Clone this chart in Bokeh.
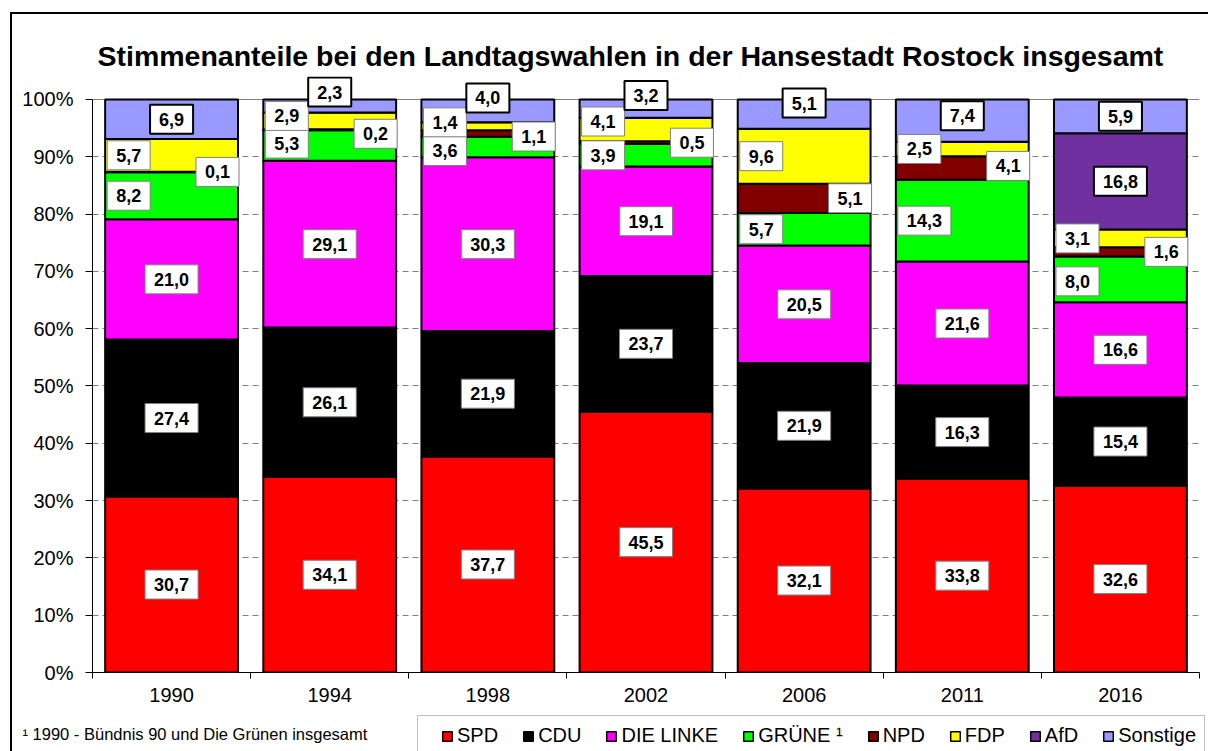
from bokeh.plotting import figure
from bokeh.layouts import column
from bokeh.models import (Range1d, FixedTicker, PrintfTickFormatter, Label, Legend, LegendItem,
                          ColumnDataSource, Grid)
from bokeh.embed import file_html
from bokeh.resources import INLINE

# ---- data ----
years = ["1990", "1994", "1998", "2002", "2006", "2011", "2016"]
parties = ["SPD", "CDU", "DIE LINKE", "GRÜNE ¹", "NPD", "FDP", "AfD", "Sonstige"]
spd = [30.7, 34.1, 37.7, 45.5, 32.1, 33.8, 32.6]
cdu = [27.4, 26.1, 21.9, 23.7, 21.9, 16.3, 15.4]
linke = [21.0, 29.1, 30.3, 19.1, 20.5, 21.6, 16.6]
gruene = [8.2, 5.3, 3.6, 3.9, 5.7, 14.3, 8.0]
npd = [0.1, 0.2, 1.1, 0.5, 5.1, 4.1, 1.6]
fdp = [5.7, 2.9, 1.4, 4.1, 9.6, 2.5, 3.1]
afd = [0.0, 0.0, 0.0, 0.0, 0.0, 0.0, 16.8]
sonstige = [6.9, 2.3, 4.0, 3.2, 5.1, 7.4, 5.9]
y_ticks = [0, 10, 20, 30, 40, 50, 60, 70, 80, 90, 100]
title_text = "Stimmenanteile bei den Landtagswahlen in der Hansestadt Rostock insgesamt"
footnote = "¹ 1990 - Bündnis 90 und Die Grünen insgesamt"

series = [spd, cdu, linke, gruene, npd, fdp, afd, sonstige]

# ---- styles / layout ----
colors = ["#FF0000", "#000000", "#FF00FF", "#00FF00", "#800000", "#FFFF00", "#7030A0", "#9999FF"]
label_align = ["C", "C", "C", "L", "R", "L", "C", "C"]
strong_border = [False, False, False, False, False, False, True, True]
# manual label nudges in pixels (series index, year index) -> dy (up positive)
nudges = {(7, 1): 14, (5, 1): 5, (4, 1): -4, (3, 1): 2,
          (7, 2): 13, (5, 2): 4, (4, 2): -3, (3, 2): -4,
          (7, 3): 13, (5, 3): 8,
          (7, 4): 11,
          (7, 5): 5, (4, 5): 2,
          (3, 6): -2}
FONT = "Liberation Sans"
BAR_W = 0.84
Y_TOP = 104.0      # headroom above 100 % so that labels above the bars are not clipped
W, H1, H2 = 1208, 712, 39

xs = list(range(len(years)))
keys = ["s%d" % k for k in range(len(series))]
src = ColumnDataSource(data=dict(x=xs, **{k: v for k, v in zip(keys, series)}))

p = figure(width=W, height=H1, x_range=Range1d(-0.5, 6.5), y_range=Range1d(0, Y_TOP),
           output_backend="svg", toolbar_location=None,
           min_border_left=92, min_border_top=76, min_border_right=9, min_border_bottom=40)
p.frame_align = False

p.title.text = title_text
p.title.text_font = FONT
p.title.text_font_size = "28.5px"
p.title.text_font_style = "bold"
p.title.text_color = "black"
p.title.align = "left"
p.title.offset = 5
p.title.standoff = 10

renderers = p.vbar_stack(keys, x="x", width=BAR_W, source=src,
                         fill_color=colors, line_color="black", line_width=2)

# axes
p.xaxis.ticker = FixedTicker(ticks=xs, minor_ticks=[i - 0.5 for i in range(len(years) + 1)])
p.xaxis.major_label_overrides = {i: y for i, y in enumerate(years)}
p.xaxis.major_tick_out = 0
p.xaxis.major_tick_in = 0
p.xaxis.minor_tick_out = 6
p.xaxis.minor_tick_in = 0
p.xaxis.major_label_standoff = 9
p.yaxis.ticker = FixedTicker(ticks=y_ticks)
p.yaxis.formatter = PrintfTickFormatter(format="%d%%")
p.yaxis.bounds = (0, 100)
p.yaxis.major_tick_out = 7
p.yaxis.major_tick_in = 0
p.yaxis.minor_tick_line_color = None
p.yaxis.major_label_standoff = 12
for ax in (p.xaxis, p.yaxis):
    ax.axis_line_color = "black"
    ax.major_tick_line_color = "black"
    ax.major_label_text_font = FONT
    ax.major_label_text_font_size = "20px"
    ax.major_label_text_color = "black"
p.xaxis.minor_tick_line_color = "black"

p.xgrid.grid_line_color = None
p.ygrid.ticker = FixedTicker(ticks=y_ticks[1:-1])
p.ygrid.grid_line_color = "#808080"
p.ygrid.grid_line_dash = "6 4"
# solid plot-area edges at 100 % and on the right
p.add_layout(Grid(dimension=1, ticker=FixedTicker(ticks=[y_ticks[-1]]), bounds=(-0.5, 6.5),
                  grid_line_color="#808080", grid_line_width=1))
p.add_layout(Grid(dimension=0, ticker=FixedTicker(ticks=[6.5]), bounds=(0, y_ticks[-1]),
                  grid_line_color="#808080", grid_line_width=1))
p.outline_line_color = None
p.background_fill_color = "white"
p.border_fill_color = None

# value labels
for j, vals in enumerate(series):
    for i, v in enumerate(vals):
        if v <= 0:
            continue
        base = sum(series[k][i] for k in range(j))
        yc = base + v / 2.0
        a = label_align[j]
        if a == "C":
            x, xo, ta = i, 0, "center"
        elif a == "L":
            x, xo, ta = i - BAR_W / 2, 2, "left"
        else:
            x, xo, ta = i + BAR_W / 2, 1, "right"
        p.add_layout(Label(x=x, y=yc, x_offset=xo, y_offset=nudges.get((j, i), 0),
                           text=("%.1f" % v).replace(".", ","),
                           text_font=FONT, text_font_style="bold", text_font_size="18px",
                           text_align=ta, text_baseline="middle", text_color="black",
                           background_fill_color="white",
                           border_line_color="black" if strong_border[j] else "#808080",
                           border_line_width=2 if strong_border[j] else 1,
                           padding=dict(x=9, y=8)))

# ---- bottom strip: footnote + legend ----
p2 = figure(width=W, height=H2, x_range=Range1d(0, W), y_range=Range1d(0, H2),
            output_backend="svg", toolbar_location=None,
            min_border=0, min_border_left=0, min_border_right=0,
            min_border_top=0, min_border_bottom=0,
            x_axis_location=None, y_axis_location=None)
p2.frame_align = False
p2.grid.grid_line_color = None
p2.outline_line_color = None
p2.background_fill_color = None
p2.border_fill_color = None

# hidden copies of the bars, used only as legend swatches
legend_renderers = p2.vbar_stack(keys, x="x", width=BAR_W, source=src,
                                 fill_color=colors, line_color="black", line_width=1.5)
for r in legend_renderers:
    r.visible = False

p2.add_layout(Label(x=22, y=H2 - 21, text=footnote, text_font=FONT, text_font_size="16.5px",
                    text_align="left", text_baseline="middle", text_color="black"))

legend = Legend(items=[LegendItem(label=n, renderers=[r]) for n, r in zip(parties, legend_renderers)],
                orientation="horizontal", location=(417, -5),
                title=" ", title_location="left", title_standoff=0,
                label_text_font=FONT, label_text_font_size="20px", label_text_color="black",
                glyph_width=12, glyph_height=12, label_standoff=4, spacing=24,
                padding=8, margin=0, border_line_color="#808080", border_line_width=1,
                background_fill_color="white", inactive_fill_alpha=0.0)
p2.add_layout(legend)

layout = column(p, p2, spacing=0,
                styles={"background":
                        "linear-gradient(#000,#000) 10px 12px / 2px 100% no-repeat,"
                        "linear-gradient(#000,#000) 10px 12px / 100% 2px no-repeat"})

open("out.html", "w").write(file_html(layout, INLINE))
